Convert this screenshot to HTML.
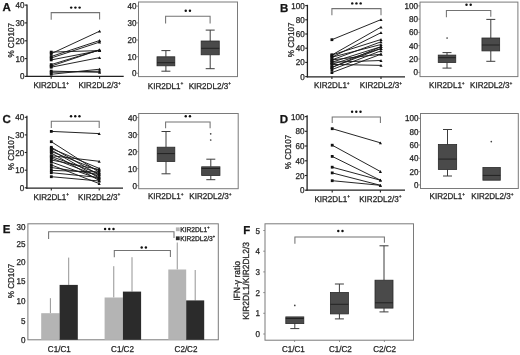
<!DOCTYPE html><html><head><meta charset="utf-8"><style>html,body{margin:0;padding:0;background:#fff;}svg{display:block;}text{font-family:"Liberation Sans",sans-serif;stroke:#2a2a2a;stroke-width:0.28px;text-rendering:geometricPrecision;}svg{filter:grayscale(1);}</style></head><body>
<svg width="520" height="355" viewBox="0 0 520 355">
<rect width="520" height="355" fill="#fff"/>
<text transform="translate(2.40 10.80) scale(1.0 1)" font-size="11.5" text-anchor="start" font-weight="bold" fill="#111">A</text>
<line x1="27.0" y1="4.4" x2="27.0" y2="77.0" stroke="#222" stroke-width="1.3"/>
<line x1="26.4" y1="76.4" x2="123.7" y2="76.4" stroke="#222" stroke-width="1.3"/>
<line x1="24.8" y1="5.1" x2="27.0" y2="5.1" stroke="#222" stroke-width="1.1"/>
<text transform="translate(24.40 8.10) scale(0.95 1)" font-size="8.5" text-anchor="end" fill="#222">40</text>
<line x1="24.8" y1="22.9" x2="27.0" y2="22.9" stroke="#222" stroke-width="1.1"/>
<text transform="translate(24.40 25.90) scale(0.95 1)" font-size="8.5" text-anchor="end" fill="#222">30</text>
<line x1="24.8" y1="40.8" x2="27.0" y2="40.8" stroke="#222" stroke-width="1.1"/>
<text transform="translate(24.40 43.80) scale(0.95 1)" font-size="8.5" text-anchor="end" fill="#222">20</text>
<line x1="24.8" y1="58.6" x2="27.0" y2="58.6" stroke="#222" stroke-width="1.1"/>
<text transform="translate(24.40 61.60) scale(0.95 1)" font-size="8.5" text-anchor="end" fill="#222">10</text>
<line x1="24.8" y1="76.4" x2="27.0" y2="76.4" stroke="#222" stroke-width="1.1"/>
<text transform="translate(24.40 79.40) scale(0.95 1)" font-size="8.5" text-anchor="end" fill="#222">0</text>
<line x1="51.2" y1="76.4" x2="51.2" y2="78.7" stroke="#222" stroke-width="1.1"/>
<line x1="99.6" y1="76.4" x2="99.6" y2="78.7" stroke="#222" stroke-width="1.1"/>
<line x1="51.2" y1="53.7" x2="99.6" y2="31.2" stroke="#1a1a1a" stroke-width="0.95"/>
<line x1="51.2" y1="56.5" x2="99.6" y2="40.5" stroke="#1a1a1a" stroke-width="0.95"/>
<line x1="51.2" y1="58.0" x2="99.6" y2="42.1" stroke="#1a1a1a" stroke-width="0.95"/>
<line x1="51.2" y1="52.1" x2="99.6" y2="50.6" stroke="#1a1a1a" stroke-width="0.95"/>
<line x1="51.2" y1="64.6" x2="99.6" y2="49.8" stroke="#1a1a1a" stroke-width="0.95"/>
<line x1="51.2" y1="66.1" x2="99.6" y2="49.8" stroke="#1a1a1a" stroke-width="0.95"/>
<line x1="51.2" y1="59.9" x2="99.6" y2="50.6" stroke="#1a1a1a" stroke-width="0.95"/>
<line x1="51.2" y1="67.2" x2="99.6" y2="57.6" stroke="#1a1a1a" stroke-width="0.95"/>
<line x1="51.2" y1="71.1" x2="99.6" y2="72.3" stroke="#1a1a1a" stroke-width="0.95"/>
<line x1="51.2" y1="74.3" x2="99.6" y2="69.2" stroke="#1a1a1a" stroke-width="0.95"/>
<line x1="51.2" y1="72.3" x2="99.6" y2="71.2" stroke="#1a1a1a" stroke-width="0.95"/>
<rect x="49.80" y="52.30" width="2.8" height="2.8" fill="#111"/>
<polygon points="99.60,29.80 98.05,32.59 101.15,32.59" fill="#111"/>
<rect x="49.80" y="55.10" width="2.8" height="2.8" fill="#111"/>
<polygon points="99.60,39.10 98.05,41.90 101.15,41.90" fill="#111"/>
<rect x="49.80" y="56.60" width="2.8" height="2.8" fill="#111"/>
<polygon points="99.60,40.70 98.05,43.50 101.15,43.50" fill="#111"/>
<rect x="49.80" y="50.70" width="2.8" height="2.8" fill="#111"/>
<polygon points="99.60,49.20 98.05,52.00 101.15,52.00" fill="#111"/>
<rect x="49.80" y="63.20" width="2.8" height="2.8" fill="#111"/>
<polygon points="99.60,48.40 98.05,51.20 101.15,51.20" fill="#111"/>
<rect x="49.80" y="64.70" width="2.8" height="2.8" fill="#111"/>
<polygon points="99.60,48.40 98.05,51.20 101.15,51.20" fill="#111"/>
<rect x="49.80" y="58.50" width="2.8" height="2.8" fill="#111"/>
<polygon points="99.60,49.20 98.05,52.00 101.15,52.00" fill="#111"/>
<rect x="49.80" y="65.80" width="2.8" height="2.8" fill="#111"/>
<polygon points="99.60,56.20 98.05,59.00 101.15,59.00" fill="#111"/>
<rect x="49.80" y="69.70" width="2.8" height="2.8" fill="#111"/>
<polygon points="99.60,70.91 98.05,73.69 101.15,73.69" fill="#111"/>
<rect x="49.80" y="72.90" width="2.8" height="2.8" fill="#111"/>
<polygon points="99.60,67.81 98.05,70.59 101.15,70.59" fill="#111"/>
<rect x="49.80" y="70.90" width="2.8" height="2.8" fill="#111"/>
<polygon points="99.60,69.81 98.05,72.59 101.15,72.59" fill="#111"/>
<polyline points="51.2,19.7 51.2,12.6 99.6,12.6 99.6,19.6" fill="none" stroke="#737373" stroke-width="1.05"/>
<circle cx="71.20" cy="7.6" r="1.22" fill="#111"/>
<circle cx="75.40" cy="7.6" r="1.22" fill="#111"/>
<circle cx="79.60" cy="7.6" r="1.22" fill="#111"/>
<text transform="translate(51.20 87.90) scale(0.95 1)" font-size="8.5" text-anchor="middle" fill="#222">KIR2DL1<tspan font-size="5.10" dy="-3.40">+</tspan></text>
<text transform="translate(99.60 87.90) scale(0.95 1)" font-size="8.5" text-anchor="middle" fill="#222">KIR2DL2/3<tspan font-size="5.10" dy="-3.40">+</tspan></text>
<text transform="translate(13.60 40.30) rotate(-90) scale(0.95 1)" font-size="8.5" text-anchor="middle" fill="#222">% CD107</text>
<rect x="138.5" y="2.0" width="99.0" height="74.6" fill="none" stroke="#7a7a7a" stroke-width="1"/>
<line x1="136.7" y1="6.1" x2="138.5" y2="6.1" stroke="#7a7a7a" stroke-width="0.8"/>
<text transform="translate(136.60 9.10) scale(0.95 1)" font-size="8.5" text-anchor="end" fill="#222">40</text>
<line x1="136.7" y1="22.9" x2="138.5" y2="22.9" stroke="#7a7a7a" stroke-width="0.8"/>
<text transform="translate(136.60 25.90) scale(0.95 1)" font-size="8.5" text-anchor="end" fill="#222">30</text>
<line x1="136.7" y1="40.0" x2="138.5" y2="40.0" stroke="#7a7a7a" stroke-width="0.8"/>
<text transform="translate(136.60 43.00) scale(0.95 1)" font-size="8.5" text-anchor="end" fill="#222">20</text>
<line x1="136.7" y1="56.7" x2="138.5" y2="56.7" stroke="#7a7a7a" stroke-width="0.8"/>
<text transform="translate(136.60 59.70) scale(0.95 1)" font-size="8.5" text-anchor="end" fill="#222">10</text>
<line x1="136.7" y1="73.3" x2="138.5" y2="73.3" stroke="#7a7a7a" stroke-width="0.8"/>
<text transform="translate(136.60 76.30) scale(0.95 1)" font-size="8.5" text-anchor="end" fill="#222">0</text>
<line x1="165.9" y1="50.6" x2="165.9" y2="56.8" stroke="#3c3c3c" stroke-width="1"/>
<line x1="161.4" y1="50.6" x2="170.4" y2="50.6" stroke="#3c3c3c" stroke-width="1"/>
<line x1="165.9" y1="65.8" x2="165.9" y2="71.2" stroke="#3c3c3c" stroke-width="1"/>
<line x1="161.4" y1="71.2" x2="170.4" y2="71.2" stroke="#3c3c3c" stroke-width="1"/>
<rect x="157.0" y="56.8" width="17.8" height="9.0" fill="#4a4a4a" stroke="#2a2a2a" stroke-width="0.8"/>
<line x1="157.0" y1="62.7" x2="174.8" y2="62.7" stroke="#222" stroke-width="1"/>
<line x1="210.2" y1="30.1" x2="210.2" y2="41.0" stroke="#3c3c3c" stroke-width="1"/>
<line x1="205.7" y1="30.1" x2="214.7" y2="30.1" stroke="#3c3c3c" stroke-width="1"/>
<line x1="210.2" y1="54.8" x2="210.2" y2="68.7" stroke="#3c3c3c" stroke-width="1"/>
<line x1="205.7" y1="68.7" x2="214.7" y2="68.7" stroke="#3c3c3c" stroke-width="1"/>
<rect x="201.14999999999998" y="41.0" width="18.1" height="13.799999999999997" fill="#4a4a4a" stroke="#2a2a2a" stroke-width="0.8"/>
<line x1="201.14999999999998" y1="48.3" x2="219.25" y2="48.3" stroke="#222" stroke-width="1"/>
<polyline points="165.6,23.5 165.6,16.2 210.1,16.2 210.1,23.5" fill="none" stroke="#737373" stroke-width="1.05"/>
<circle cx="185.75" cy="10.7" r="1.22" fill="#111"/>
<circle cx="189.95" cy="10.7" r="1.22" fill="#111"/>
<text transform="translate(165.60 88.80) scale(0.95 1)" font-size="8.5" text-anchor="middle" fill="#222">KIR2DL1<tspan font-size="5.10" dy="-3.40">+</tspan></text>
<text transform="translate(209.80 88.80) scale(0.95 1)" font-size="8.5" text-anchor="middle" fill="#222">KIR2DL2/3<tspan font-size="5.10" dy="-3.40">+</tspan></text>
<text transform="translate(280.00 11.60) scale(1.0 1)" font-size="11.5" text-anchor="start" font-weight="bold" fill="#111">B</text>
<line x1="307.4" y1="4.8" x2="307.4" y2="77.39999999999999" stroke="#222" stroke-width="1.3"/>
<line x1="306.79999999999995" y1="76.8" x2="405.0" y2="76.8" stroke="#222" stroke-width="1.3"/>
<line x1="305.2" y1="5.6" x2="307.4" y2="5.6" stroke="#222" stroke-width="1.1"/>
<text transform="translate(304.80 8.60) scale(0.95 1)" font-size="8.5" text-anchor="end" fill="#222">100</text>
<line x1="305.2" y1="19.8" x2="307.4" y2="19.8" stroke="#222" stroke-width="1.1"/>
<text transform="translate(304.80 22.80) scale(0.95 1)" font-size="8.5" text-anchor="end" fill="#222">80</text>
<line x1="305.2" y1="34.0" x2="307.4" y2="34.0" stroke="#222" stroke-width="1.1"/>
<text transform="translate(304.80 37.00) scale(0.95 1)" font-size="8.5" text-anchor="end" fill="#222">60</text>
<line x1="305.2" y1="48.2" x2="307.4" y2="48.2" stroke="#222" stroke-width="1.1"/>
<text transform="translate(304.80 51.20) scale(0.95 1)" font-size="8.5" text-anchor="end" fill="#222">40</text>
<line x1="305.2" y1="62.4" x2="307.4" y2="62.4" stroke="#222" stroke-width="1.1"/>
<text transform="translate(304.80 65.40) scale(0.95 1)" font-size="8.5" text-anchor="end" fill="#222">20</text>
<line x1="305.2" y1="76.6" x2="307.4" y2="76.6" stroke="#222" stroke-width="1.1"/>
<text transform="translate(304.80 79.60) scale(0.95 1)" font-size="8.5" text-anchor="end" fill="#222">0</text>
<line x1="331.9" y1="76.8" x2="331.9" y2="79.1" stroke="#222" stroke-width="1.1"/>
<line x1="381.0" y1="76.8" x2="381.0" y2="79.1" stroke="#222" stroke-width="1.1"/>
<line x1="331.9" y1="39.7" x2="381.0" y2="19.6" stroke="#1a1a1a" stroke-width="0.95"/>
<line x1="331.9" y1="55.0" x2="381.0" y2="27.1" stroke="#1a1a1a" stroke-width="0.95"/>
<line x1="331.9" y1="57.2" x2="381.0" y2="32.7" stroke="#1a1a1a" stroke-width="0.95"/>
<line x1="331.9" y1="55.0" x2="381.0" y2="39.5" stroke="#1a1a1a" stroke-width="0.95"/>
<line x1="331.9" y1="59.9" x2="381.0" y2="41.8" stroke="#1a1a1a" stroke-width="0.95"/>
<line x1="331.9" y1="57.2" x2="381.0" y2="44.5" stroke="#1a1a1a" stroke-width="0.95"/>
<line x1="331.9" y1="62.2" x2="381.0" y2="46.7" stroke="#1a1a1a" stroke-width="0.95"/>
<line x1="331.9" y1="64.4" x2="381.0" y2="48.5" stroke="#1a1a1a" stroke-width="0.95"/>
<line x1="331.9" y1="67.4" x2="381.0" y2="48.5" stroke="#1a1a1a" stroke-width="0.95"/>
<line x1="331.9" y1="69.6" x2="381.0" y2="50.8" stroke="#1a1a1a" stroke-width="0.95"/>
<line x1="331.9" y1="59.9" x2="381.0" y2="54.2" stroke="#1a1a1a" stroke-width="0.95"/>
<line x1="331.9" y1="72.6" x2="381.0" y2="54.2" stroke="#1a1a1a" stroke-width="0.95"/>
<line x1="331.9" y1="62.2" x2="381.0" y2="60.5" stroke="#1a1a1a" stroke-width="0.95"/>
<line x1="331.9" y1="64.4" x2="381.0" y2="65.4" stroke="#1a1a1a" stroke-width="0.95"/>
<line x1="331.9" y1="67.4" x2="381.0" y2="46.7" stroke="#1a1a1a" stroke-width="0.95"/>
<rect x="330.50" y="38.30" width="2.8" height="2.8" fill="#111"/>
<polygon points="381.00,18.21 379.45,21.00 382.55,21.00" fill="#111"/>
<rect x="330.50" y="53.60" width="2.8" height="2.8" fill="#111"/>
<polygon points="381.00,25.71 379.45,28.50 382.55,28.50" fill="#111"/>
<rect x="330.50" y="55.80" width="2.8" height="2.8" fill="#111"/>
<polygon points="381.00,31.31 379.45,34.10 382.55,34.10" fill="#111"/>
<rect x="330.50" y="53.60" width="2.8" height="2.8" fill="#111"/>
<polygon points="381.00,38.10 379.45,40.90 382.55,40.90" fill="#111"/>
<rect x="330.50" y="58.50" width="2.8" height="2.8" fill="#111"/>
<polygon points="381.00,40.40 379.45,43.20 382.55,43.20" fill="#111"/>
<rect x="330.50" y="55.80" width="2.8" height="2.8" fill="#111"/>
<polygon points="381.00,43.10 379.45,45.90 382.55,45.90" fill="#111"/>
<rect x="330.50" y="60.80" width="2.8" height="2.8" fill="#111"/>
<polygon points="381.00,45.30 379.45,48.10 382.55,48.10" fill="#111"/>
<rect x="330.50" y="63.00" width="2.8" height="2.8" fill="#111"/>
<polygon points="381.00,47.10 379.45,49.90 382.55,49.90" fill="#111"/>
<rect x="330.50" y="66.00" width="2.8" height="2.8" fill="#111"/>
<polygon points="381.00,47.10 379.45,49.90 382.55,49.90" fill="#111"/>
<rect x="330.50" y="68.20" width="2.8" height="2.8" fill="#111"/>
<polygon points="381.00,49.40 379.45,52.20 382.55,52.20" fill="#111"/>
<rect x="330.50" y="58.50" width="2.8" height="2.8" fill="#111"/>
<polygon points="381.00,52.80 379.45,55.60 382.55,55.60" fill="#111"/>
<rect x="330.50" y="71.20" width="2.8" height="2.8" fill="#111"/>
<polygon points="381.00,52.80 379.45,55.60 382.55,55.60" fill="#111"/>
<rect x="330.50" y="60.80" width="2.8" height="2.8" fill="#111"/>
<polygon points="381.00,59.10 379.45,61.90 382.55,61.90" fill="#111"/>
<rect x="330.50" y="63.00" width="2.8" height="2.8" fill="#111"/>
<polygon points="381.00,64.01 379.45,66.80 382.55,66.80" fill="#111"/>
<rect x="330.50" y="66.00" width="2.8" height="2.8" fill="#111"/>
<polygon points="381.00,45.30 379.45,48.10 382.55,48.10" fill="#111"/>
<polyline points="331.9,15.3 331.9,8.6 381.0,8.6 381.0,15.3" fill="none" stroke="#737373" stroke-width="1.05"/>
<circle cx="352.25" cy="3.4" r="1.22" fill="#111"/>
<circle cx="356.45" cy="3.4" r="1.22" fill="#111"/>
<circle cx="360.65" cy="3.4" r="1.22" fill="#111"/>
<text transform="translate(331.90 88.30) scale(0.95 1)" font-size="8.5" text-anchor="middle" fill="#222">KIR2DL1<tspan font-size="5.10" dy="-3.40">+</tspan></text>
<text transform="translate(381.00 88.30) scale(0.95 1)" font-size="8.5" text-anchor="middle" fill="#222">KIR2DL2/3<tspan font-size="5.10" dy="-3.40">+</tspan></text>
<text transform="translate(293.60 39.90) rotate(-90) scale(0.95 1)" font-size="8.5" text-anchor="middle" fill="#222">% CD107</text>
<rect x="420.0" y="2.1" width="97.89999999999998" height="74.5" fill="none" stroke="#7a7a7a" stroke-width="1"/>
<line x1="418.2" y1="5.9" x2="420.0" y2="5.9" stroke="#7a7a7a" stroke-width="0.8"/>
<text transform="translate(418.00 8.90) scale(0.95 1)" font-size="8.5" text-anchor="end" fill="#222">100</text>
<line x1="418.2" y1="19.1" x2="420.0" y2="19.1" stroke="#7a7a7a" stroke-width="0.8"/>
<text transform="translate(418.00 22.10) scale(0.95 1)" font-size="8.5" text-anchor="end" fill="#222">80</text>
<line x1="418.2" y1="32.4" x2="420.0" y2="32.4" stroke="#7a7a7a" stroke-width="0.8"/>
<text transform="translate(418.00 35.40) scale(0.95 1)" font-size="8.5" text-anchor="end" fill="#222">60</text>
<line x1="418.2" y1="45.7" x2="420.0" y2="45.7" stroke="#7a7a7a" stroke-width="0.8"/>
<text transform="translate(418.00 48.70) scale(0.95 1)" font-size="8.5" text-anchor="end" fill="#222">40</text>
<line x1="418.2" y1="59.0" x2="420.0" y2="59.0" stroke="#7a7a7a" stroke-width="0.8"/>
<text transform="translate(418.00 62.00) scale(0.95 1)" font-size="8.5" text-anchor="end" fill="#222">20</text>
<line x1="418.2" y1="72.4" x2="420.0" y2="72.4" stroke="#7a7a7a" stroke-width="0.8"/>
<text transform="translate(418.00 75.40) scale(0.95 1)" font-size="8.5" text-anchor="end" fill="#222">0</text>
<line x1="447.0" y1="52.6" x2="447.0" y2="55.1" stroke="#3c3c3c" stroke-width="1"/>
<line x1="442.5" y1="52.6" x2="451.5" y2="52.6" stroke="#3c3c3c" stroke-width="1"/>
<line x1="447.0" y1="62.5" x2="447.0" y2="68.1" stroke="#3c3c3c" stroke-width="1"/>
<line x1="442.5" y1="68.1" x2="451.5" y2="68.1" stroke="#3c3c3c" stroke-width="1"/>
<rect x="438.25" y="55.1" width="17.5" height="7.399999999999999" fill="#4a4a4a" stroke="#2a2a2a" stroke-width="0.8"/>
<line x1="438.25" y1="57.7" x2="455.75" y2="57.7" stroke="#222" stroke-width="1"/>
<line x1="490.8" y1="19.4" x2="490.8" y2="38.0" stroke="#3c3c3c" stroke-width="1"/>
<line x1="486.3" y1="19.4" x2="495.3" y2="19.4" stroke="#3c3c3c" stroke-width="1"/>
<line x1="490.8" y1="50.9" x2="490.8" y2="61.3" stroke="#3c3c3c" stroke-width="1"/>
<line x1="486.3" y1="61.3" x2="495.3" y2="61.3" stroke="#3c3c3c" stroke-width="1"/>
<rect x="481.95" y="38.0" width="17.7" height="12.899999999999999" fill="#4a4a4a" stroke="#2a2a2a" stroke-width="0.8"/>
<line x1="481.95" y1="45.0" x2="499.65000000000003" y2="45.0" stroke="#222" stroke-width="1"/>
<circle cx="447.1" cy="38.0" r="0.85" fill="#444"/>
<polyline points="446.4,17.2 446.4,10.4 490.8,10.4 490.8,16.7" fill="none" stroke="#737373" stroke-width="1.05"/>
<circle cx="466.50" cy="4.8" r="1.22" fill="#111"/>
<circle cx="470.70" cy="4.8" r="1.22" fill="#111"/>
<text transform="translate(446.90 88.20) scale(0.95 1)" font-size="8.5" text-anchor="middle" fill="#222">KIR2DL1<tspan font-size="5.10" dy="-3.40">+</tspan></text>
<text transform="translate(491.20 88.20) scale(0.95 1)" font-size="8.5" text-anchor="middle" fill="#222">KIR2DL2/3<tspan font-size="5.10" dy="-3.40">+</tspan></text>
<text transform="translate(2.40 122.50) scale(1.0 1)" font-size="11.5" text-anchor="start" font-weight="bold" fill="#111">C</text>
<line x1="26.9" y1="115.8" x2="26.9" y2="188.79999999999998" stroke="#222" stroke-width="1.3"/>
<line x1="26.299999999999997" y1="188.2" x2="123.0" y2="188.2" stroke="#222" stroke-width="1.3"/>
<line x1="24.7" y1="117.3" x2="26.9" y2="117.3" stroke="#222" stroke-width="1.1"/>
<text transform="translate(24.30 120.30) scale(0.95 1)" font-size="8.5" text-anchor="end" fill="#222">40</text>
<line x1="24.7" y1="134.9" x2="26.9" y2="134.9" stroke="#222" stroke-width="1.1"/>
<text transform="translate(24.30 137.90) scale(0.95 1)" font-size="8.5" text-anchor="end" fill="#222">30</text>
<line x1="24.7" y1="152.5" x2="26.9" y2="152.5" stroke="#222" stroke-width="1.1"/>
<text transform="translate(24.30 155.50) scale(0.95 1)" font-size="8.5" text-anchor="end" fill="#222">20</text>
<line x1="24.7" y1="170.2" x2="26.9" y2="170.2" stroke="#222" stroke-width="1.1"/>
<text transform="translate(24.30 173.20) scale(0.95 1)" font-size="8.5" text-anchor="end" fill="#222">10</text>
<line x1="24.7" y1="187.8" x2="26.9" y2="187.8" stroke="#222" stroke-width="1.1"/>
<text transform="translate(24.30 190.80) scale(0.95 1)" font-size="8.5" text-anchor="end" fill="#222">0</text>
<line x1="51.3" y1="188.2" x2="51.3" y2="190.5" stroke="#222" stroke-width="1.1"/>
<line x1="99.2" y1="188.2" x2="99.2" y2="190.5" stroke="#222" stroke-width="1.1"/>
<line x1="51.3" y1="131.4" x2="99.2" y2="133.6" stroke="#1a1a1a" stroke-width="0.95"/>
<line x1="51.3" y1="141.7" x2="99.2" y2="172.3" stroke="#1a1a1a" stroke-width="0.95"/>
<line x1="51.3" y1="147.3" x2="99.2" y2="175.0" stroke="#1a1a1a" stroke-width="0.95"/>
<line x1="51.3" y1="148.5" x2="99.2" y2="168.4" stroke="#1a1a1a" stroke-width="0.95"/>
<line x1="51.3" y1="150.0" x2="99.2" y2="178.0" stroke="#1a1a1a" stroke-width="0.95"/>
<line x1="51.3" y1="151.5" x2="99.2" y2="170.5" stroke="#1a1a1a" stroke-width="0.95"/>
<line x1="51.3" y1="153.0" x2="99.2" y2="180.5" stroke="#1a1a1a" stroke-width="0.95"/>
<line x1="51.3" y1="155.7" x2="99.2" y2="161.3" stroke="#1a1a1a" stroke-width="0.95"/>
<line x1="51.3" y1="156.5" x2="99.2" y2="173.5" stroke="#1a1a1a" stroke-width="0.95"/>
<line x1="51.3" y1="158.0" x2="99.2" y2="176.5" stroke="#1a1a1a" stroke-width="0.95"/>
<line x1="51.3" y1="160.0" x2="99.2" y2="169.5" stroke="#1a1a1a" stroke-width="0.95"/>
<line x1="51.3" y1="162.0" x2="99.2" y2="179.0" stroke="#1a1a1a" stroke-width="0.95"/>
<line x1="51.3" y1="164.9" x2="99.2" y2="183.6" stroke="#1a1a1a" stroke-width="0.95"/>
<line x1="51.3" y1="170.4" x2="99.2" y2="172.0" stroke="#1a1a1a" stroke-width="0.95"/>
<line x1="51.3" y1="172.7" x2="99.2" y2="177.5" stroke="#1a1a1a" stroke-width="0.95"/>
<line x1="51.3" y1="176.7" x2="99.2" y2="181.0" stroke="#1a1a1a" stroke-width="0.95"/>
<line x1="51.3" y1="167.5" x2="99.2" y2="174.5" stroke="#1a1a1a" stroke-width="0.95"/>
<rect x="49.90" y="130.00" width="2.8" height="2.8" fill="#111"/>
<polygon points="99.20,132.20 97.65,135.00 100.75,135.00" fill="#111"/>
<rect x="49.90" y="140.30" width="2.8" height="2.8" fill="#111"/>
<polygon points="99.20,170.91 97.65,173.70 100.75,173.70" fill="#111"/>
<rect x="49.90" y="145.90" width="2.8" height="2.8" fill="#111"/>
<polygon points="99.20,173.60 97.65,176.40 100.75,176.40" fill="#111"/>
<rect x="49.90" y="147.10" width="2.8" height="2.8" fill="#111"/>
<polygon points="99.20,167.00 97.65,169.80 100.75,169.80" fill="#111"/>
<rect x="49.90" y="148.60" width="2.8" height="2.8" fill="#111"/>
<polygon points="99.20,176.60 97.65,179.40 100.75,179.40" fill="#111"/>
<rect x="49.90" y="150.10" width="2.8" height="2.8" fill="#111"/>
<polygon points="99.20,169.10 97.65,171.90 100.75,171.90" fill="#111"/>
<rect x="49.90" y="151.60" width="2.8" height="2.8" fill="#111"/>
<polygon points="99.20,179.10 97.65,181.90 100.75,181.90" fill="#111"/>
<rect x="49.90" y="154.30" width="2.8" height="2.8" fill="#111"/>
<polygon points="99.20,159.91 97.65,162.70 100.75,162.70" fill="#111"/>
<rect x="49.90" y="155.10" width="2.8" height="2.8" fill="#111"/>
<polygon points="99.20,172.10 97.65,174.90 100.75,174.90" fill="#111"/>
<rect x="49.90" y="156.60" width="2.8" height="2.8" fill="#111"/>
<polygon points="99.20,175.10 97.65,177.90 100.75,177.90" fill="#111"/>
<rect x="49.90" y="158.60" width="2.8" height="2.8" fill="#111"/>
<polygon points="99.20,168.10 97.65,170.90 100.75,170.90" fill="#111"/>
<rect x="49.90" y="160.60" width="2.8" height="2.8" fill="#111"/>
<polygon points="99.20,177.60 97.65,180.40 100.75,180.40" fill="#111"/>
<rect x="49.90" y="163.50" width="2.8" height="2.8" fill="#111"/>
<polygon points="99.20,182.20 97.65,185.00 100.75,185.00" fill="#111"/>
<rect x="49.90" y="169.00" width="2.8" height="2.8" fill="#111"/>
<polygon points="99.20,170.60 97.65,173.40 100.75,173.40" fill="#111"/>
<rect x="49.90" y="171.30" width="2.8" height="2.8" fill="#111"/>
<polygon points="99.20,176.10 97.65,178.90 100.75,178.90" fill="#111"/>
<rect x="49.90" y="175.30" width="2.8" height="2.8" fill="#111"/>
<polygon points="99.20,179.60 97.65,182.40 100.75,182.40" fill="#111"/>
<rect x="49.90" y="166.10" width="2.8" height="2.8" fill="#111"/>
<polygon points="99.20,173.10 97.65,175.90 100.75,175.90" fill="#111"/>
<polyline points="51.3,128.0 51.3,121.3 99.2,121.3 99.2,128.0" fill="none" stroke="#737373" stroke-width="1.05"/>
<circle cx="71.05" cy="116.3" r="1.22" fill="#111"/>
<circle cx="75.25" cy="116.3" r="1.22" fill="#111"/>
<circle cx="79.45" cy="116.3" r="1.22" fill="#111"/>
<text transform="translate(51.30 199.70) scale(0.95 1)" font-size="8.5" text-anchor="middle" fill="#222">KIR2DL1<tspan font-size="5.10" dy="-3.40">+</tspan></text>
<text transform="translate(99.20 199.70) scale(0.95 1)" font-size="8.5" text-anchor="middle" fill="#222">KIR2DL2/3<tspan font-size="5.10" dy="-3.40">+</tspan></text>
<text transform="translate(13.80 153.00) rotate(-90) scale(0.95 1)" font-size="8.5" text-anchor="middle" fill="#222">% CD107</text>
<rect x="138.7" y="113.5" width="99.5" height="75.19999999999999" fill="none" stroke="#7a7a7a" stroke-width="1"/>
<line x1="136.89999999999998" y1="117.6" x2="138.7" y2="117.6" stroke="#7a7a7a" stroke-width="0.8"/>
<text transform="translate(136.90 120.60) scale(0.95 1)" font-size="8.5" text-anchor="end" fill="#222">40</text>
<line x1="136.89999999999998" y1="134.6" x2="138.7" y2="134.6" stroke="#7a7a7a" stroke-width="0.8"/>
<text transform="translate(136.90 137.60) scale(0.95 1)" font-size="8.5" text-anchor="end" fill="#222">30</text>
<line x1="136.89999999999998" y1="151.7" x2="138.7" y2="151.7" stroke="#7a7a7a" stroke-width="0.8"/>
<text transform="translate(136.90 154.70) scale(0.95 1)" font-size="8.5" text-anchor="end" fill="#222">20</text>
<line x1="136.89999999999998" y1="168.7" x2="138.7" y2="168.7" stroke="#7a7a7a" stroke-width="0.8"/>
<text transform="translate(136.90 171.70) scale(0.95 1)" font-size="8.5" text-anchor="end" fill="#222">10</text>
<line x1="136.89999999999998" y1="185.7" x2="138.7" y2="185.7" stroke="#7a7a7a" stroke-width="0.8"/>
<text transform="translate(136.90 188.70) scale(0.95 1)" font-size="8.5" text-anchor="end" fill="#222">0</text>
<line x1="166.0" y1="131.5" x2="166.0" y2="147.2" stroke="#3c3c3c" stroke-width="1"/>
<line x1="161.5" y1="131.5" x2="170.5" y2="131.5" stroke="#3c3c3c" stroke-width="1"/>
<line x1="166.0" y1="161.5" x2="166.0" y2="173.8" stroke="#3c3c3c" stroke-width="1"/>
<line x1="161.5" y1="173.8" x2="170.5" y2="173.8" stroke="#3c3c3c" stroke-width="1"/>
<rect x="157.2" y="147.2" width="17.6" height="14.300000000000011" fill="#4a4a4a" stroke="#2a2a2a" stroke-width="0.8"/>
<line x1="157.2" y1="153.6" x2="174.8" y2="153.6" stroke="#222" stroke-width="1"/>
<line x1="210.8" y1="159.2" x2="210.8" y2="166.8" stroke="#3c3c3c" stroke-width="1"/>
<line x1="206.3" y1="159.2" x2="215.3" y2="159.2" stroke="#3c3c3c" stroke-width="1"/>
<line x1="210.8" y1="175.5" x2="210.8" y2="179.7" stroke="#3c3c3c" stroke-width="1"/>
<line x1="206.3" y1="179.7" x2="215.3" y2="179.7" stroke="#3c3c3c" stroke-width="1"/>
<rect x="201.65" y="166.8" width="18.3" height="8.699999999999989" fill="#4a4a4a" stroke="#2a2a2a" stroke-width="0.8"/>
<line x1="201.65" y1="168.5" x2="219.95000000000002" y2="168.5" stroke="#222" stroke-width="1"/>
<circle cx="210.7" cy="133.8" r="0.85" fill="#444"/>
<circle cx="210.7" cy="140.0" r="0.85" fill="#444"/>
<polyline points="165.6,128.2 165.6,122.0 210.1,122.0 210.1,128.2" fill="none" stroke="#737373" stroke-width="1.05"/>
<circle cx="185.75" cy="116.3" r="1.22" fill="#111"/>
<circle cx="189.95" cy="116.3" r="1.22" fill="#111"/>
<text transform="translate(165.70 199.20) scale(0.95 1)" font-size="8.5" text-anchor="middle" fill="#222">KIR2DL1<tspan font-size="5.10" dy="-3.40">+</tspan></text>
<text transform="translate(210.50 199.20) scale(0.95 1)" font-size="8.5" text-anchor="middle" fill="#222">KIR2DL2/3<tspan font-size="5.10" dy="-3.40">+</tspan></text>
<text transform="translate(279.70 122.80) scale(1.0 1)" font-size="11.5" text-anchor="start" font-weight="bold" fill="#111">D</text>
<line x1="307.1" y1="115.2" x2="307.1" y2="190.79999999999998" stroke="#222" stroke-width="1.3"/>
<line x1="306.5" y1="190.2" x2="405.0" y2="190.2" stroke="#222" stroke-width="1.3"/>
<line x1="304.90000000000003" y1="116.6" x2="307.1" y2="116.6" stroke="#222" stroke-width="1.1"/>
<text transform="translate(304.50 119.60) scale(0.95 1)" font-size="8.5" text-anchor="end" fill="#222">100</text>
<line x1="304.90000000000003" y1="131.3" x2="307.1" y2="131.3" stroke="#222" stroke-width="1.1"/>
<text transform="translate(304.50 134.30) scale(0.95 1)" font-size="8.5" text-anchor="end" fill="#222">80</text>
<line x1="304.90000000000003" y1="146.0" x2="307.1" y2="146.0" stroke="#222" stroke-width="1.1"/>
<text transform="translate(304.50 149.00) scale(0.95 1)" font-size="8.5" text-anchor="end" fill="#222">60</text>
<line x1="304.90000000000003" y1="160.8" x2="307.1" y2="160.8" stroke="#222" stroke-width="1.1"/>
<text transform="translate(304.50 163.80) scale(0.95 1)" font-size="8.5" text-anchor="end" fill="#222">40</text>
<line x1="304.90000000000003" y1="175.5" x2="307.1" y2="175.5" stroke="#222" stroke-width="1.1"/>
<text transform="translate(304.50 178.50) scale(0.95 1)" font-size="8.5" text-anchor="end" fill="#222">20</text>
<line x1="304.90000000000003" y1="190.2" x2="307.1" y2="190.2" stroke="#222" stroke-width="1.1"/>
<text transform="translate(304.50 193.20) scale(0.95 1)" font-size="8.5" text-anchor="end" fill="#222">0</text>
<line x1="332.2" y1="190.2" x2="332.2" y2="192.5" stroke="#222" stroke-width="1.1"/>
<line x1="380.4" y1="190.2" x2="380.4" y2="192.5" stroke="#222" stroke-width="1.1"/>
<line x1="332.2" y1="128.7" x2="380.4" y2="142.8" stroke="#1a1a1a" stroke-width="0.95"/>
<line x1="332.2" y1="145.2" x2="380.4" y2="171.5" stroke="#1a1a1a" stroke-width="0.95"/>
<line x1="332.2" y1="156.4" x2="380.4" y2="180.2" stroke="#1a1a1a" stroke-width="0.95"/>
<line x1="332.2" y1="167.2" x2="380.4" y2="180.2" stroke="#1a1a1a" stroke-width="0.95"/>
<line x1="332.2" y1="172.9" x2="380.4" y2="185.3" stroke="#1a1a1a" stroke-width="0.95"/>
<line x1="332.2" y1="180.7" x2="380.4" y2="185.3" stroke="#1a1a1a" stroke-width="0.95"/>
<rect x="330.80" y="127.30" width="2.8" height="2.8" fill="#111"/>
<polygon points="380.40,141.41 378.85,144.20 381.95,144.20" fill="#111"/>
<rect x="330.80" y="143.80" width="2.8" height="2.8" fill="#111"/>
<polygon points="380.40,170.10 378.85,172.90 381.95,172.90" fill="#111"/>
<rect x="330.80" y="155.00" width="2.8" height="2.8" fill="#111"/>
<polygon points="380.40,178.80 378.85,181.59 381.95,181.59" fill="#111"/>
<rect x="330.80" y="165.80" width="2.8" height="2.8" fill="#111"/>
<polygon points="380.40,178.80 378.85,181.59 381.95,181.59" fill="#111"/>
<rect x="330.80" y="171.50" width="2.8" height="2.8" fill="#111"/>
<polygon points="380.40,183.91 378.85,186.70 381.95,186.70" fill="#111"/>
<rect x="330.80" y="179.30" width="2.8" height="2.8" fill="#111"/>
<polygon points="380.40,183.91 378.85,186.70 381.95,186.70" fill="#111"/>
<polyline points="332.2,123.1 332.2,116.9 380.4,116.9 380.4,123.1" fill="none" stroke="#737373" stroke-width="1.05"/>
<circle cx="352.10" cy="111.8" r="1.22" fill="#111"/>
<circle cx="356.30" cy="111.8" r="1.22" fill="#111"/>
<circle cx="360.50" cy="111.8" r="1.22" fill="#111"/>
<text transform="translate(332.20 201.70) scale(0.95 1)" font-size="8.5" text-anchor="middle" fill="#222">KIR2DL1<tspan font-size="5.10" dy="-3.40">+</tspan></text>
<text transform="translate(380.40 201.70) scale(0.95 1)" font-size="8.5" text-anchor="middle" fill="#222">KIR2DL2/3<tspan font-size="5.10" dy="-3.40">+</tspan></text>
<text transform="translate(291.20 152.00) rotate(-90) scale(0.95 1)" font-size="8.5" text-anchor="middle" fill="#222">% CD107</text>
<rect x="420.5" y="113.5" width="97.79999999999995" height="75.0" fill="none" stroke="#7a7a7a" stroke-width="1"/>
<line x1="418.7" y1="118.4" x2="420.5" y2="118.4" stroke="#7a7a7a" stroke-width="0.8"/>
<text transform="translate(418.60 121.40) scale(0.95 1)" font-size="8.5" text-anchor="end" fill="#222">100</text>
<line x1="418.7" y1="131.7" x2="420.5" y2="131.7" stroke="#7a7a7a" stroke-width="0.8"/>
<text transform="translate(418.60 134.70) scale(0.95 1)" font-size="8.5" text-anchor="end" fill="#222">80</text>
<line x1="418.7" y1="145.0" x2="420.5" y2="145.0" stroke="#7a7a7a" stroke-width="0.8"/>
<text transform="translate(418.60 148.00) scale(0.95 1)" font-size="8.5" text-anchor="end" fill="#222">60</text>
<line x1="418.7" y1="158.3" x2="420.5" y2="158.3" stroke="#7a7a7a" stroke-width="0.8"/>
<text transform="translate(418.60 161.30) scale(0.95 1)" font-size="8.5" text-anchor="end" fill="#222">40</text>
<line x1="418.7" y1="171.6" x2="420.5" y2="171.6" stroke="#7a7a7a" stroke-width="0.8"/>
<text transform="translate(418.60 174.60) scale(0.95 1)" font-size="8.5" text-anchor="end" fill="#222">20</text>
<line x1="418.7" y1="184.9" x2="420.5" y2="184.9" stroke="#7a7a7a" stroke-width="0.8"/>
<text transform="translate(418.60 187.90) scale(0.95 1)" font-size="8.5" text-anchor="end" fill="#222">0</text>
<line x1="447.5" y1="129.5" x2="447.5" y2="144.5" stroke="#3c3c3c" stroke-width="1"/>
<line x1="443.0" y1="129.5" x2="452.0" y2="129.5" stroke="#3c3c3c" stroke-width="1"/>
<line x1="447.5" y1="169.5" x2="447.5" y2="176.0" stroke="#3c3c3c" stroke-width="1"/>
<line x1="443.0" y1="176.0" x2="452.0" y2="176.0" stroke="#3c3c3c" stroke-width="1"/>
<rect x="438.35" y="144.5" width="18.3" height="25.0" fill="#4a4a4a" stroke="#2a2a2a" stroke-width="0.8"/>
<line x1="438.35" y1="159.1" x2="456.65" y2="159.1" stroke="#222" stroke-width="1"/>
<rect x="482.90000000000003" y="167.5" width="17.4" height="12.699999999999989" fill="#4a4a4a" stroke="#2a2a2a" stroke-width="0.8"/>
<line x1="482.90000000000003" y1="175.4" x2="500.3" y2="175.4" stroke="#222" stroke-width="1"/>
<circle cx="491.3" cy="141.6" r="0.85" fill="#444"/>
<polyline points="0,0 0,0 0,0 0,0" fill="none" stroke="#737373" stroke-width="1.05"/>
<text transform="translate(447.30 199.20) scale(0.95 1)" font-size="8.5" text-anchor="middle" fill="#222">KIR2DL1<tspan font-size="5.10" dy="-3.40">+</tspan></text>
<text transform="translate(492.50 199.20) scale(0.95 1)" font-size="8.5" text-anchor="middle" fill="#222">KIR2DL2/3<tspan font-size="5.10" dy="-3.40">+</tspan></text>
<text transform="translate(2.80 232.90) scale(1.0 1)" font-size="11.5" text-anchor="start" font-weight="bold" fill="#111">E</text>
<rect x="27.9" y="223.8" width="190.4" height="116.0" fill="none" stroke="#7a7a7a" stroke-width="1"/>
<text transform="translate(25.40 342.70) scale(0.95 1)" font-size="8.5" text-anchor="end" fill="#222">0</text>
<text transform="translate(25.40 323.60) scale(0.95 1)" font-size="8.5" text-anchor="end" fill="#222">5</text>
<text transform="translate(25.40 303.50) scale(0.95 1)" font-size="8.5" text-anchor="end" fill="#222">10</text>
<text transform="translate(25.40 284.00) scale(0.95 1)" font-size="8.5" text-anchor="end" fill="#222">15</text>
<text transform="translate(25.40 265.20) scale(0.95 1)" font-size="8.5" text-anchor="end" fill="#222">20</text>
<text transform="translate(25.40 247.40) scale(0.95 1)" font-size="8.5" text-anchor="end" fill="#222">25</text>
<text transform="translate(25.40 229.60) scale(0.95 1)" font-size="8.5" text-anchor="end" fill="#222">30</text>
<line x1="50.400000000000006" y1="298.2" x2="50.400000000000006" y2="313.2" stroke="#888" stroke-width="0.9"/>
<rect x="41.2" y="313.2" width="18.4" height="26.600000000000023" fill="#b4b4b4" stroke="none" stroke-width="0"/>
<line x1="68.7" y1="257.6" x2="68.7" y2="284.9" stroke="#888" stroke-width="0.9"/>
<rect x="59.6" y="284.9" width="18.2" height="54.900000000000034" fill="#2b2b2b" stroke="none" stroke-width="0"/>
<line x1="113.75" y1="266.2" x2="113.75" y2="297.5" stroke="#888" stroke-width="0.9"/>
<rect x="104.6" y="297.5" width="18.3" height="42.30000000000001" fill="#b4b4b4" stroke="none" stroke-width="0"/>
<line x1="132.0" y1="257.2" x2="132.0" y2="291.6" stroke="#888" stroke-width="0.9"/>
<rect x="122.9" y="291.6" width="18.2" height="48.19999999999999" fill="#2b2b2b" stroke="none" stroke-width="0"/>
<line x1="177.25" y1="242.5" x2="177.25" y2="269.5" stroke="#888" stroke-width="0.9"/>
<rect x="168.3" y="269.5" width="17.9" height="70.30000000000001" fill="#b4b4b4" stroke="none" stroke-width="0"/>
<line x1="195.2" y1="270.0" x2="195.2" y2="300.4" stroke="#888" stroke-width="0.9"/>
<rect x="186.2" y="300.4" width="18.0" height="39.400000000000034" fill="#2b2b2b" stroke="none" stroke-width="0"/>
<polyline points="48.6,238.9 48.6,231.8 174.0,231.8 174.0,238.0" fill="none" stroke="#737373" stroke-width="1.05"/>
<circle cx="105.10" cy="229.0" r="1.22" fill="#111"/>
<circle cx="109.30" cy="229.0" r="1.22" fill="#111"/>
<circle cx="113.50" cy="229.0" r="1.22" fill="#111"/>
<polyline points="114.3,257.2 114.3,250.5 170.4,250.5 170.4,257.0" fill="none" stroke="#737373" stroke-width="1.05"/>
<circle cx="141.70" cy="247.5" r="1.22" fill="#111"/>
<circle cx="145.90" cy="247.5" r="1.22" fill="#111"/>
<rect x="175.9" y="227.4" width="3.8" height="3.8" fill="#b4b4b4" stroke="none" stroke-width="0"/>
<rect x="175.9" y="236.4" width="3.8" height="3.8" fill="#2b2b2b" stroke="none" stroke-width="0"/>
<text transform="translate(180.2 231.9) scale(0.95 1)" font-size="7" fill="#222">KIR2DL1<tspan font-size="4.2" dy="-2.6">+</tspan></text>
<text transform="translate(180.2 240.9) scale(0.95 1)" font-size="7" fill="#222">KIR2DL2/3<tspan font-size="4.2" dy="-2.6">+</tspan></text>
<text transform="translate(59.30 351.60) scale(0.95 1)" font-size="8.5" text-anchor="middle" fill="#222">C1/C1</text>
<text transform="translate(122.50 351.60) scale(0.95 1)" font-size="8.5" text-anchor="middle" fill="#222">C1/C2</text>
<text transform="translate(186.00 351.60) scale(0.95 1)" font-size="8.5" text-anchor="middle" fill="#222">C2/C2</text>
<text transform="translate(13.60 281.00) rotate(-90) scale(0.95 1)" font-size="8.5" text-anchor="middle" fill="#222">% CD107</text>
<text transform="translate(243.30 233.60) scale(1.0 1)" font-size="11.5" text-anchor="start" font-weight="bold" fill="#111">F</text>
<rect x="265.0" y="223.8" width="148.5" height="116.39999999999998" fill="none" stroke="#7a7a7a" stroke-width="1"/>
<line x1="263.2" y1="334.0" x2="265.0" y2="334.0" stroke="#7a7a7a" stroke-width="0.8"/>
<text transform="translate(260.00 337.00) scale(0.95 1)" font-size="8.5" text-anchor="end" fill="#222">0</text>
<line x1="263.2" y1="313.3" x2="265.0" y2="313.3" stroke="#7a7a7a" stroke-width="0.8"/>
<text transform="translate(260.00 316.30) scale(0.95 1)" font-size="8.5" text-anchor="end" fill="#222">1</text>
<line x1="263.2" y1="292.6" x2="265.0" y2="292.6" stroke="#7a7a7a" stroke-width="0.8"/>
<text transform="translate(260.00 295.60) scale(0.95 1)" font-size="8.5" text-anchor="end" fill="#222">2</text>
<line x1="263.2" y1="271.9" x2="265.0" y2="271.9" stroke="#7a7a7a" stroke-width="0.8"/>
<text transform="translate(260.00 274.90) scale(0.95 1)" font-size="8.5" text-anchor="end" fill="#222">3</text>
<line x1="263.2" y1="251.2" x2="265.0" y2="251.2" stroke="#7a7a7a" stroke-width="0.8"/>
<text transform="translate(260.00 254.20) scale(0.95 1)" font-size="8.5" text-anchor="end" fill="#222">4</text>
<line x1="263.2" y1="230.5" x2="265.0" y2="230.5" stroke="#7a7a7a" stroke-width="0.8"/>
<text transform="translate(260.00 233.50) scale(0.95 1)" font-size="8.5" text-anchor="end" fill="#222">5</text>
<line x1="294.8" y1="323.6" x2="294.8" y2="328.6" stroke="#3c3c3c" stroke-width="1"/>
<line x1="290.3" y1="328.6" x2="299.3" y2="328.6" stroke="#3c3c3c" stroke-width="1"/>
<rect x="285.8" y="316.9" width="18.0" height="6.7000000000000455" fill="#4a4a4a" stroke="#2a2a2a" stroke-width="0.8"/>
<line x1="285.8" y1="318.5" x2="303.8" y2="318.5" stroke="#222" stroke-width="1"/>
<line x1="339.4" y1="284.0" x2="339.4" y2="292.5" stroke="#3c3c3c" stroke-width="1"/>
<line x1="334.9" y1="284.0" x2="343.9" y2="284.0" stroke="#3c3c3c" stroke-width="1"/>
<line x1="339.4" y1="313.9" x2="339.4" y2="318.9" stroke="#3c3c3c" stroke-width="1"/>
<line x1="334.9" y1="318.9" x2="343.9" y2="318.9" stroke="#3c3c3c" stroke-width="1"/>
<rect x="330.4" y="292.5" width="18.0" height="21.399999999999977" fill="#4a4a4a" stroke="#2a2a2a" stroke-width="0.8"/>
<line x1="330.4" y1="304.3" x2="348.4" y2="304.3" stroke="#222" stroke-width="1"/>
<line x1="384.0" y1="245.8" x2="384.0" y2="280.2" stroke="#3c3c3c" stroke-width="1"/>
<line x1="379.5" y1="245.8" x2="388.5" y2="245.8" stroke="#3c3c3c" stroke-width="1"/>
<line x1="384.0" y1="308.1" x2="384.0" y2="311.9" stroke="#3c3c3c" stroke-width="1"/>
<line x1="379.5" y1="311.9" x2="388.5" y2="311.9" stroke="#3c3c3c" stroke-width="1"/>
<rect x="375.0" y="280.2" width="18.0" height="27.900000000000034" fill="#4a4a4a" stroke="#2a2a2a" stroke-width="0.8"/>
<line x1="375.0" y1="302.8" x2="393.0" y2="302.8" stroke="#222" stroke-width="1"/>
<circle cx="294.8" cy="305.4" r="0.85" fill="#444"/>
<polyline points="294.9,243.7 294.9,236.9 384.4,236.9 384.4,242.7" fill="none" stroke="#737373" stroke-width="1.05"/>
<circle cx="338.30" cy="231.0" r="1.22" fill="#111"/>
<circle cx="342.50" cy="231.0" r="1.22" fill="#111"/>
<text transform="translate(293.40 352.10) scale(0.95 1)" font-size="8.5" text-anchor="middle" fill="#222">C1/C1</text>
<text transform="translate(340.40 352.10) scale(0.95 1)" font-size="8.5" text-anchor="middle" fill="#222">C1/C2</text>
<text transform="translate(384.60 352.10) scale(0.95 1)" font-size="8.5" text-anchor="middle" fill="#222">C2/C2</text>
<line x1="294.6" y1="340.2" x2="294.6" y2="342.0" stroke="#7a7a7a" stroke-width="0.8"/>
<line x1="339.5" y1="340.2" x2="339.5" y2="342.0" stroke="#7a7a7a" stroke-width="0.8"/>
<line x1="384.4" y1="340.2" x2="384.4" y2="342.0" stroke="#7a7a7a" stroke-width="0.8"/>
<text transform="translate(239.70 280.90) rotate(-90) scale(0.95 1)" font-size="9" text-anchor="middle" fill="#222">IFN-&#947; ratio</text>
<text transform="translate(249.40 280.90) rotate(-90) scale(0.95 1)" font-size="8.9" text-anchor="middle" fill="#222">KIR2DL1/KIR2DL2/3</text>
</svg></body></html>
